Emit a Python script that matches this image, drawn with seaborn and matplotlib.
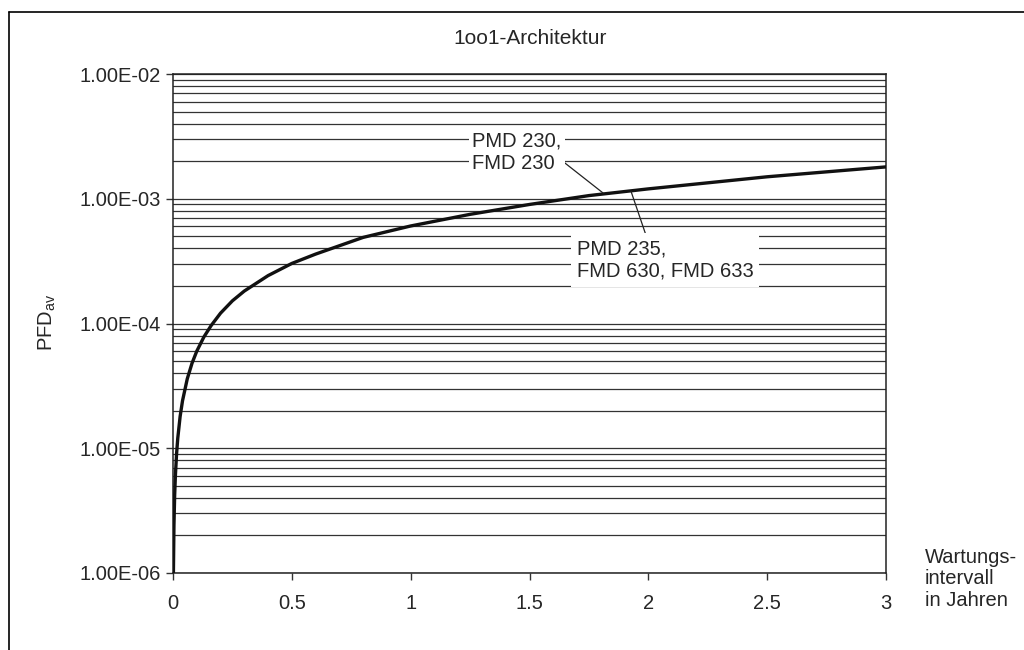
import matplotlib
matplotlib.use("Agg")
import matplotlib.pyplot as plt
import matplotlib.ticker as mticker
from matplotlib.lines import Line2D
import pandas as pd
import seaborn as sns

# Werte
intervall = [0.0017, 0.004, 0.007, 0.01, 0.015, 0.02, 0.03, 0.04, 0.06, 0.08,
             0.1, 0.13, 0.16, 0.2, 0.25, 0.3, 0.4, 0.5, 0.6, 0.8, 1.0, 1.25,
             1.5, 1.75, 2.0, 2.5, 3.0]
pfd_av = [1.0e-6, 2.4e-6, 4.2e-6, 6.0e-6, 9.0e-6, 1.2e-5, 1.8e-5, 2.4e-5,
          3.6e-5, 4.8e-5, 6.0e-5, 7.8e-5, 9.6e-5, 1.21e-4, 1.52e-4, 1.82e-4,
          2.42e-4, 3.03e-4, 3.6e-4, 4.9e-4, 6.05e-4, 7.5e-4, 9.0e-4, 1.06e-3,
          1.2e-3, 1.5e-3, 1.8e-3]
x_ticks = [0, 0.5, 1, 1.5, 2, 2.5, 3]
x_tick_labels = ["0", "0.5", "1", "1.5", "2", "2.5", "3"]

df = pd.DataFrame({"intervall": intervall, "pfd": pfd_av})

sns.set_theme(style="white")
plt.rcParams["font.family"] = ["Liberation Sans", "DejaVu Sans"]

fig = plt.figure(figsize=(10.24, 6.5), dpi=100)
ax = fig.add_axes([173 / 1024, 1 - 573 / 650, 713 / 1024, 499 / 650])

sns.lineplot(data=df, x="intervall", y="pfd", ax=ax, color="#111111",
             linewidth=2.4, zorder=5)

ax.set_yscale("log")
ax.set_ylim(1e-6, 1e-2)
ax.set_xlim(0, 3)

# horizontale Gitterlinien bei allen Teilstrichen
ax.yaxis.set_major_locator(mticker.LogLocator(base=10, numticks=10))
ax.yaxis.set_minor_locator(mticker.LogLocator(base=10, subs=range(2, 10), numticks=50))
ax.yaxis.set_major_formatter(mticker.FuncFormatter(lambda v, p: f"{v:.2E}"))
ax.yaxis.set_minor_formatter(mticker.NullFormatter())
ax.grid(True, axis="y", which="both", color="#333333", linewidth=0.9)
ax.grid(False, axis="x")
ax.set_axisbelow(True)

ax.set_xticks(x_ticks)
ax.set_xticklabels(x_tick_labels)
ax.tick_params(axis="both", which="major", direction="out", length=5, width=1,
               color="#333333", labelsize=14.5, pad=4, bottom=True, left=True)
ax.tick_params(axis="y", which="minor", length=0)
ax.tick_params(axis="x", pad=10)

for s in ax.spines.values():
    s.set_color("#222222")
    s.set_linewidth(1.1)

ax.set_xlabel("")
ax.set_ylabel("")
fig.text(47 / 1024, 1 - 322 / 650, "PFD$_{\\mathregular{av}}$", fontsize=14.5,
         rotation=90, ha="center", va="center")
fig.text(530 / 1024, 1 - 38 / 650, "1oo1-Architektur", fontsize=15,
         ha="center", va="center")

fig.text(925 / 1024, 1 - 579 / 650, "Wartungs-\nintervall\nin Jahren",
         fontsize=14.5, ha="left", va="center", linespacing=1.15)

# Beschriftungen der Kurve
ax.annotate("PMD 230,\nFMD 230", xy=(1.81, 1.11e-3), xytext=(1.447, 2.37e-3),
            fontsize=14.5, ha="center", va="center", linespacing=1.25,
            multialignment="left",
            bbox=dict(boxstyle="square,pad=0.15", fc="white", ec="none"),
            arrowprops=dict(arrowstyle="-", color="#222222", lw=0.9,
                            shrinkA=0, shrinkB=0,
                            relpos=(1.0, 0.3)), zorder=6)
ax.annotate("PMD 235,\nFMD 630, FMD 633", xy=(1.927, 1.15e-3), xytext=(2.07, 3.23e-4),
            fontsize=14.5, ha="center", va="center", linespacing=1.25,
            multialignment="left",
            bbox=dict(boxstyle="square,pad=0.3", fc="white", ec="none"),
            arrowprops=dict(arrowstyle="-", color="#222222", lw=0.9,
                            shrinkA=0, shrinkB=0,
                            relpos=(0.4, 1.0)), zorder=6)

# Rahmen der Abbildung (links und oben)
fig.add_artist(Line2D([9 / 1024, 9 / 1024], [0, 1 - 12 / 650], color="black", lw=1.2))
fig.add_artist(Line2D([9 / 1024, 1], [1 - 12 / 650, 1 - 12 / 650], color="black", lw=1.2))

fig.savefig("out.png", dpi=100)
